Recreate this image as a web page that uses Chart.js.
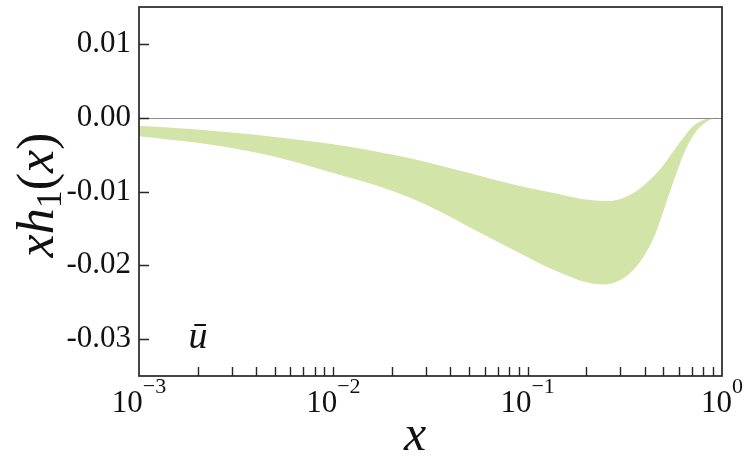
<!DOCTYPE html>
<html>
<head>
<meta charset="utf-8">
<script src="https://cdn.jsdelivr.net/npm/chart.js@4/dist/chart.umd.min.js"></script>
<style>
  html, body { margin: 0; padding: 0; background: #ffffff; }
  #wrap { width: 746px; height: 462px; position: relative; }
</style>
</head>
<body>
<div id="wrap"><canvas id="c"></canvas></div>
<script>
// ---- data ----
const xValues   = [0.001, 0.002, 0.003, 0.005, 0.01, 0.02, 0.03, 0.05, 0.07, 0.1, 0.13, 0.16, 0.2, 0.25, 0.3, 0.35, 0.4, 0.45, 0.5, 0.55, 0.6, 0.65, 0.7, 0.75, 0.8, 0.85, 0.9, 0.95, 1.0];
const upperBand = [-0.0011, -0.0016, -0.0020, -0.0026, -0.0036, -0.0050, -0.0060, -0.0075, -0.0085, -0.0095, -0.0101, -0.0106, -0.0111, -0.0113, -0.0110, -0.0102, -0.0091, -0.0078, -0.0064, -0.0049, -0.0035, -0.0023, -0.0013, -0.0007, -0.0003, -0.00012, -0.00003, 0, 0];
const lowerBand = [-0.0025, -0.0034, -0.0041, -0.0053, -0.0075, -0.0099, -0.0118, -0.0148, -0.0168, -0.0189, -0.0204, -0.0214, -0.0223, -0.0226, -0.0220, -0.0206, -0.0186, -0.0160, -0.0126, -0.0094, -0.0066, -0.0043, -0.0027, -0.0016, -0.0009, -0.0004, -0.00015, -0.00003, 0];
const yTickValues = [-0.03, -0.02, -0.01, 0, 0.01];
const yTickLabels = ['-0.03', '-0.02', '-0.01', '0.00', '0.01'];
const xMajorTicks = [0.001, 0.01, 0.1, 1];
const xTickExponents = ['\u22123', '\u22122', '\u22121', '0'];
const bandLabel = '\u016B';

const SERIF = "'Liberation Serif', 'Times New Roman', 'DejaVu Serif', serif";
const BAND_COLOR = 'rgb(211,228,169)';

const toPoints = arr => arr.map((v, i) => ({ x: xValues[i], y: v }));

const decor = {
  id: 'decor',
  afterDatasetsDraw(chart) {
    const { ctx, chartArea: a, scales: { x, y } } = chart;
    ctx.save();
    // zero reference line
    const y0 = Math.round(y.getPixelForValue(0)) + 0.5;
    ctx.strokeStyle = '#8c8c8c';
    ctx.lineWidth = 1.1;
    ctx.beginPath(); ctx.moveTo(a.left, y0); ctx.lineTo(a.right, y0); ctx.stroke();

    // frame
    ctx.strokeStyle = '#262626';
    ctx.lineWidth = 1.7;
    ctx.strokeRect(a.left, a.top, a.right - a.left, a.bottom - a.top);

    // inward y ticks
    ctx.lineWidth = 1.4;
    ctx.beginPath();
    yTickValues.forEach(v => {
      const py = Math.round(y.getPixelForValue(v)) + 0.5;
      ctx.moveTo(a.left, py); ctx.lineTo(a.left + 10, py);
    });
    // inward x ticks (log minor + decades)
    for (let d = -3; d < 0; d++) {
      for (let m = 1; m <= 9; m++) {
        if (m === 1 && d === -3) continue;
        const px = Math.round(x.getPixelForValue(m * Math.pow(10, d))) + 0.5;
        ctx.moveTo(px, a.bottom); ctx.lineTo(px, a.bottom - 9);
      }
    }
    ctx.stroke();

    // x tick labels 10^n
    ctx.fillStyle = '#111';
    ctx.textBaseline = 'alphabetic';
    ctx.textAlign = 'left';
    const baseFont = '31px ' + SERIF;
    const expFont = '22px ' + SERIF;
    xMajorTicks.forEach((v, i) => {
      const px = x.getPixelForValue(v);
      ctx.font = baseFont;
      const w1 = ctx.measureText('10').width;
      ctx.font = expFont;
      const w2 = ctx.measureText(xTickExponents[i]).width;
      const start = px - (w1 + w2) / 2;
      ctx.font = baseFont;
      ctx.fillText('10', start, a.bottom + 36);
      ctx.font = expFont;
      ctx.fillText(xTickExponents[i], start + w1, a.bottom + 17);
    });

    // x axis title
    ctx.font = 'italic 50px ' + SERIF;
    ctx.textAlign = 'center';
    ctx.fillText('x', 415, 450);

    // band label u-bar
    ctx.font = 'italic 38px ' + SERIF;
    ctx.fillText(bandLabel, 198, 348);

    // y axis title: x h_1 (x), rotated
    ctx.translate(53, 195);
    ctx.rotate(-Math.PI / 2);
    const big = 52;
    const segs = [
      { t: 'x', f: 'italic ' + big + 'px ' + SERIF, dy: 0 },
      { t: 'h', f: 'italic ' + big + 'px ' + SERIF, dy: 0 },
      { t: '1', f: Math.round(big * 0.7) + 'px ' + SERIF, dy: 8 },
      { t: '(', f: big + 'px ' + SERIF, dy: 0 },
      { t: 'x', f: 'italic ' + big + 'px ' + SERIF, dy: 0 },
      { t: ')', f: big + 'px ' + SERIF, dy: 0 }
    ];
    let total = 0;
    segs.forEach(s => { ctx.font = s.f; s.w = ctx.measureText(s.t).width; total += s.w; });
    let cx = -total / 2;
    ctx.textAlign = 'left';
    segs.forEach(s => { ctx.font = s.f; ctx.fillText(s.t, cx, s.dy); cx += s.w; });
    ctx.restore();
  }
};

new Chart(document.getElementById('c'), {
  type: 'line',
  data: {
    datasets: [
      {
        label: 'upper',
        data: toPoints(upperBand),
        borderWidth: 0,
        borderColor: 'rgba(0,0,0,0)',
        backgroundColor: BAND_COLOR,
        pointRadius: 0,
        fill: '+1',
        cubicInterpolationMode: 'monotone'
      },
      {
        label: 'lower',
        data: toPoints(lowerBand),
        borderWidth: 0,
        borderColor: 'rgba(0,0,0,0)',
        backgroundColor: BAND_COLOR,
        pointRadius: 0,
        fill: false,
        cubicInterpolationMode: 'monotone'
      }
    ]
  },
  options: {
    responsive: true,
    maintainAspectRatio: false,
    animation: false,
    devicePixelRatio: 1,
    layout: { padding: { left: 0, top: 7, right: 24, bottom: 0 } },
    plugins: { legend: { display: false }, tooltip: { enabled: false } },
    scales: {
      x: {
        type: 'logarithmic',
        min: 0.001,
        max: 1,
        ticks: { display: false },
        grid: { display: false, drawTicks: false },
        border: { display: false },
        afterFit: s => { s.height = 86; s.paddingLeft = 0; s.paddingRight = 0; }
      },
      y: {
        type: 'linear',
        min: -0.035,
        max: 0.015,
        afterBuildTicks: s => { s.ticks = yTickValues.map(v => ({ value: v })); },
        ticks: {
          padding: 8,
          color: '#111',
          font: { family: SERIF, size: 31 },
          callback: (v, i) => yTickLabels[i]
        },
        grid: { display: false, drawTicks: false },
        border: { display: false },
        afterFit: s => { s.width = 139; s.paddingTop = 0; s.paddingBottom = 0; }
      }
    }
  },
  plugins: [decor]
});
</script>
</body>
</html>
